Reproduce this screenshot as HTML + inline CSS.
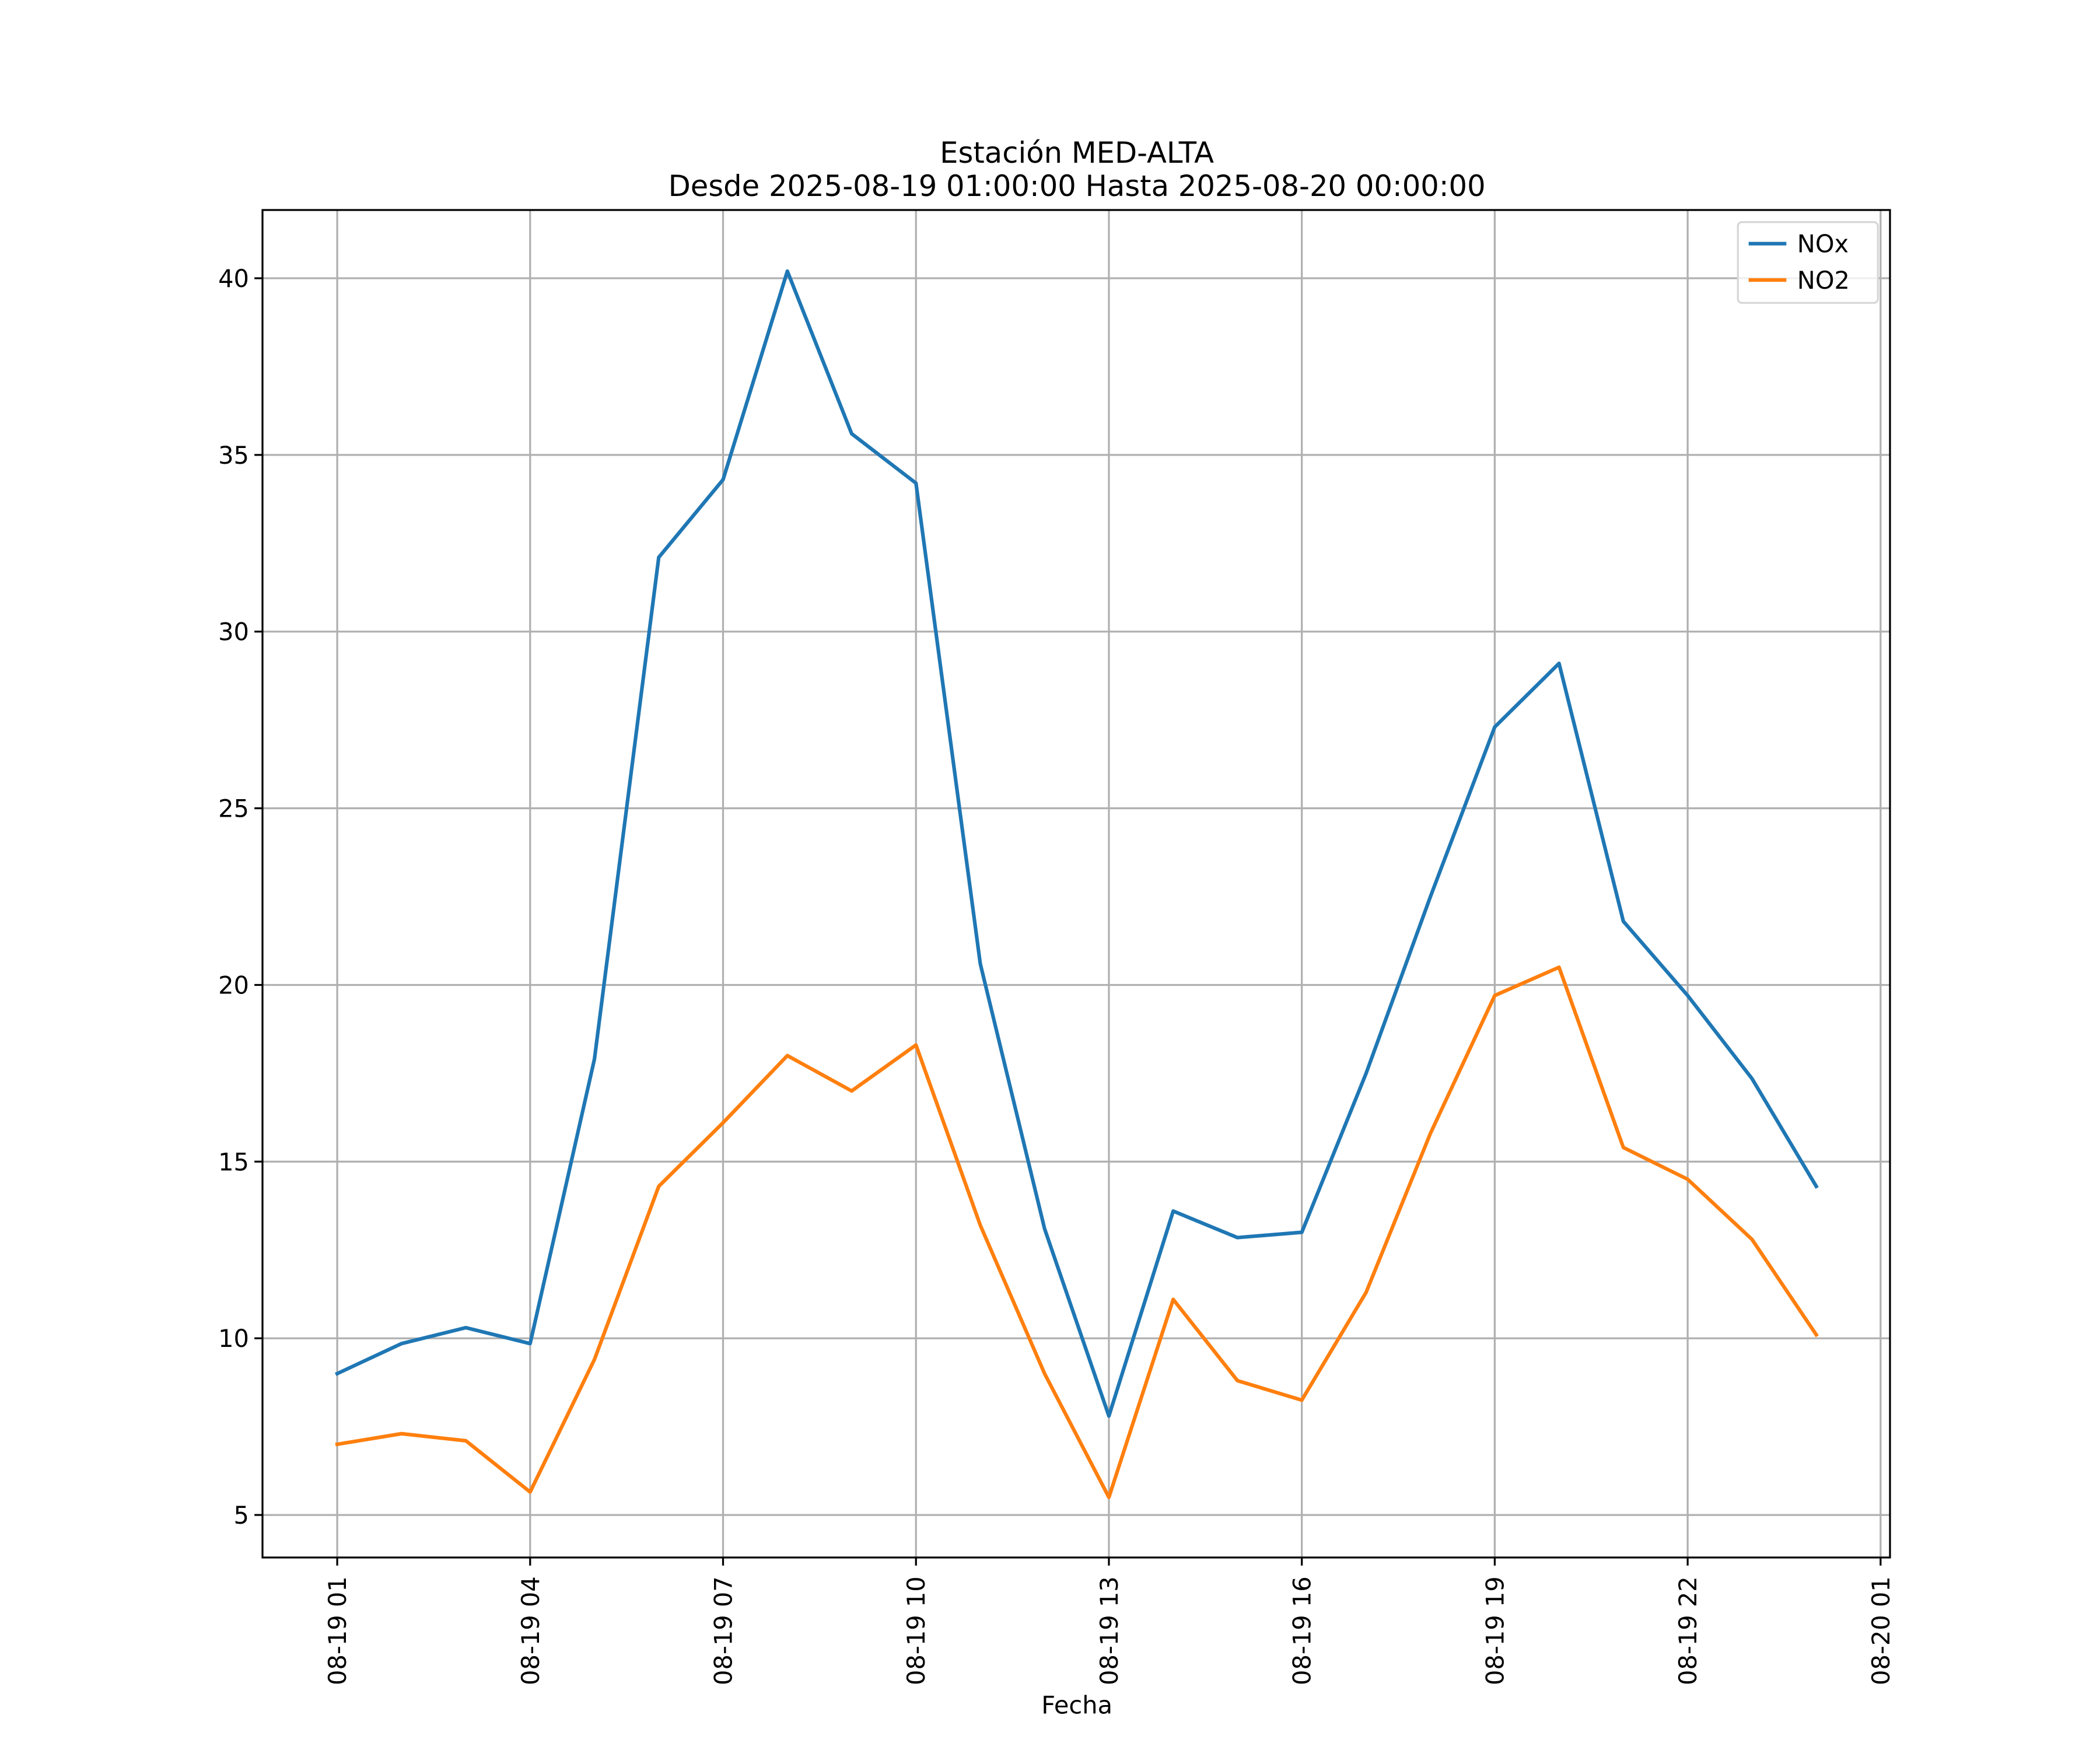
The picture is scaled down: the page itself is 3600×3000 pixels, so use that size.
<!DOCTYPE html>
<html><head><meta charset="utf-8"><style>html,body{margin:0;padding:0;background:#fff}svg{display:block}text{font-family:"DejaVu Sans","Liberation Sans",sans-serif}</style></head>
<body>
<svg id="chart" width="3600" height="3000" viewBox="0 0 1560 1300" xmlns="http://www.w3.org/2000/svg">
<rect width="1560" height="1300" fill="#fff"/>
<g id="grid"></g>
<g id="series"></g>
<rect x="195" y="156" width="1209" height="1001" fill="none" stroke="#000" stroke-width="1.4"/>
<g id="ticks"></g>
<text x="800" y="121" font-size="21.5" text-anchor="middle">Estación MED-ALTA</text>
<text x="800" y="145.5" font-size="21.5" text-anchor="middle">Desde 2025-08-19 01:00:00 Hasta 2025-08-20 00:00:00</text>
<text x="800" y="1273" font-size="18" text-anchor="middle">Fecha</text>
<g>
<rect x="1291" y="165" width="104" height="60" rx="3" fill="#fff" fill-opacity="0.8" stroke="#d6d6d6" stroke-width="1.4"/>
<line x1="1299" y1="181" x2="1327" y2="181" stroke="#1f77b4" stroke-width="2.7"/>
<text x="1335" y="187.5" font-size="18">NOx</text>
<line x1="1299" y1="208" x2="1327" y2="208" stroke="#ff7f0e" stroke-width="2.7"/>
<text x="1335" y="214.5" font-size="18">NO2</text>
</g>
</svg>
<script>
const hours=[1,2,3,4,5,6,7,8,9,10,11,12,13,14,15,16,17,18,19,20,21,22,23,24];
const noxValues=[9.0,9.85,10.3,9.85,17.9,32.1,34.3,40.2,35.6,34.2,20.6,13.1,7.8,13.6,12.85,13.0,17.5,22.5,27.3,29.1,21.8,19.7,17.35,14.3];
const no2Values=[7.0,7.3,7.1,5.65,9.4,14.3,16.1,18.0,17.0,18.3,13.2,9.0,5.5,11.1,8.8,8.25,11.3,15.8,19.7,20.5,15.4,14.5,12.8,10.1];
const yTicks=[5,10,15,20,25,30,35,40];
const xTickHours=[1,4,7,10,13,16,19,22,25];
const xTickLabels=["08-19 01","08-19 04","08-19 07","08-19 10","08-19 13","08-19 16","08-19 19","08-19 22","08-20 01"];
const NS="http://www.w3.org/2000/svg";
function xs(h){return 250.5+(h-1)*(1397-250.5)/24;}
function ys(v){return 1125.4-(v-5)*(1125.4-206.7)/35;}
function mk(tag,attrs,parent){const e=document.createElementNS(NS,tag);for(const k in attrs)e.setAttribute(k,attrs[k]);parent.appendChild(e);return e;}
const grid=document.getElementById('grid'),ticks=document.getElementById('ticks'),series=document.getElementById('series');
yTicks.forEach(v=>{
 const g=mk('line',{x1:195,x2:1404,y1:ys(v),y2:ys(v),stroke:'#b0b0b0','stroke-width':1.4},grid);
 
 
 mk('line',{x1:189,x2:195,y1:ys(v),y2:ys(v),stroke:'#000','stroke-width':1.4},ticks);
 const t=mk('text',{x:185,y:ys(v)+6.5,'font-size':18,'text-anchor':'end'},ticks);
 
 
 t.textContent=v;
});
xTickHours.forEach((h,i)=>{
 const g=mk('line',{x1:xs(h),x2:xs(h),y1:156,y2:1157,stroke:'#b0b0b0','stroke-width':1.4},grid);
 
 
 mk('line',{x1:xs(h),x2:xs(h),y1:1157,y2:1163,stroke:'#000','stroke-width':1.4},ticks);
 const t=mk('text',{x:0,y:0,'font-size':18,'text-anchor':'end',transform:`translate(${xs(h)+6.5},1171) rotate(-90)`},ticks);
 
 
 t.textContent=xTickLabels[i];
});
function line(vals,color,name){
 const p=mk('polyline',{points:vals.map((v,i)=>xs(hours[i])+','+ys(v)).join(' '),fill:'none',stroke:color,'stroke-width':2.7,'stroke-linejoin':'round','stroke-linecap':'square'},series);
 
 
}
line(noxValues,'#1f77b4','nox-line');
line(no2Values,'#ff7f0e','no2-line');
</script>
</body></html>
